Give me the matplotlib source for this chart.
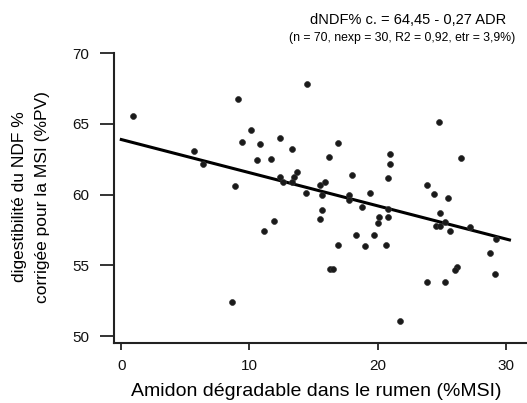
import matplotlib.pyplot as plt

plt.rcParams['font.family'] = ['Liberation Sans', 'DejaVu Sans']

# amidon dégradable (%MSI) and digestibilité NDF corrigée (%)
adr = [0.9, 9.1, 10.1, 9.4, 5.65, 6.4, 8.9, 8.67, 14.5, 10.8,
       12.4, 13.3, 10.6, 11.65, 16.9, 16.25, 12.4, 12.6, 13.5, 13.7,
       13.3, 14.4, 15.5, 15.9, 15.65, 18.0, 17.8, 17.8, 19.4, 24.8,
       21.0, 21.0, 26.5, 20.8, 23.85, 24.4, 25.5, 24.9, 18.8, 20.8,
       15.65, 15.5, 20.15, 20.8, 20.0, 18.3, 19.75, 16.9, 19.0, 20.65,
       16.3, 16.5, 21.75, 24.55, 24.85, 25.3, 25.65, 27.25, 29.25, 28.75,
       29.15, 26.2, 26.05, 23.9, 25.25, 11.9, 11.15]
dndf = [65.6, 66.8, 64.6, 63.7, 63.1, 62.2, 60.6, 52.4, 67.8, 63.6,
        64.0, 63.2, 62.45, 62.5, 63.65, 62.65, 61.25, 60.9, 61.25, 61.6,
        60.9, 60.15, 60.7, 60.9, 60.0, 61.4, 60.0, 59.6, 60.15, 65.15,
        62.9, 62.15, 62.6, 61.2, 60.65, 60.05, 59.8, 58.7, 59.15, 59.0,
        58.9, 58.3, 58.4, 58.4, 58.0, 57.15, 57.15, 56.45, 56.4, 56.45,
        54.75, 54.75, 51.05, 57.8, 57.75, 58.1, 57.45, 57.7, 56.85, 55.9,
        54.4, 54.9, 54.7, 53.85, 53.85, 58.15, 57.45]

# fitted line end points
line_x = [0, 30.3]
line_y = [63.9, 56.8]

x_ticks = [0, 10, 20, 30]
y_ticks = [50, 55, 60, 65, 70]

fig = plt.figure(figsize=(5.27, 4.03), dpi=100)
ax = fig.add_axes([114 / 527, 60.3 / 403, 413 / 527, 289.4 / 403])

ax.scatter(adr, dndf, s=18, c='#1a1a1a', edgecolors='#333333', linewidths=0.5, zorder=3)
ax.plot(line_x, line_y, color='black', lw=2.2, zorder=2)

ax.set_xlim(-0.57, 31.67)
ax.set_ylim(49.53, 70)
ax.set_xticks(x_ticks)
ax.set_yticks(y_ticks)

for side in ['top', 'right']:
    ax.spines[side].set_visible(False)
for side in ['left', 'bottom']:
    ax.spines[side].set_linewidth(1.5)
    ax.spines[side].set_color('#222222')

ax.tick_params(axis='y', length=10, width=1.2, pad=8, labelsize=11, colors='#111111')
ax.tick_params(axis='x', length=5, width=1.2, pad=7, labelsize=11, colors='#111111')

fig.text(316 / 527, 1 - 392 / 403, 'Amidon dégradable dans le rumen (%MSI)',
         ha='center', va='center', fontsize=14)
fig.text(20 / 527, 1 - 197 / 403, 'digestibilité du NDF %',
         ha='center', va='center', rotation=90, fontsize=12.5)
fig.text(43 / 527, 1 - 197 / 403, 'corrigée pour la MSI (%PV)',
         ha='center', va='center', rotation=90, fontsize=12.5)

fig.text(408 / 527, 1 - 20 / 403, 'dNDF% c. = 64,45 - 0,27 ADR',
         ha='center', va='center', fontsize=10.5)
fig.text(402 / 527, 1 - 38.5 / 403, '(n = 70, nexp = 30, R2 = 0,92, etr = 3,9%)',
         ha='center', va='center', fontsize=8.8)

fig.savefig('out.png', dpi=100)
plt.close(fig)
